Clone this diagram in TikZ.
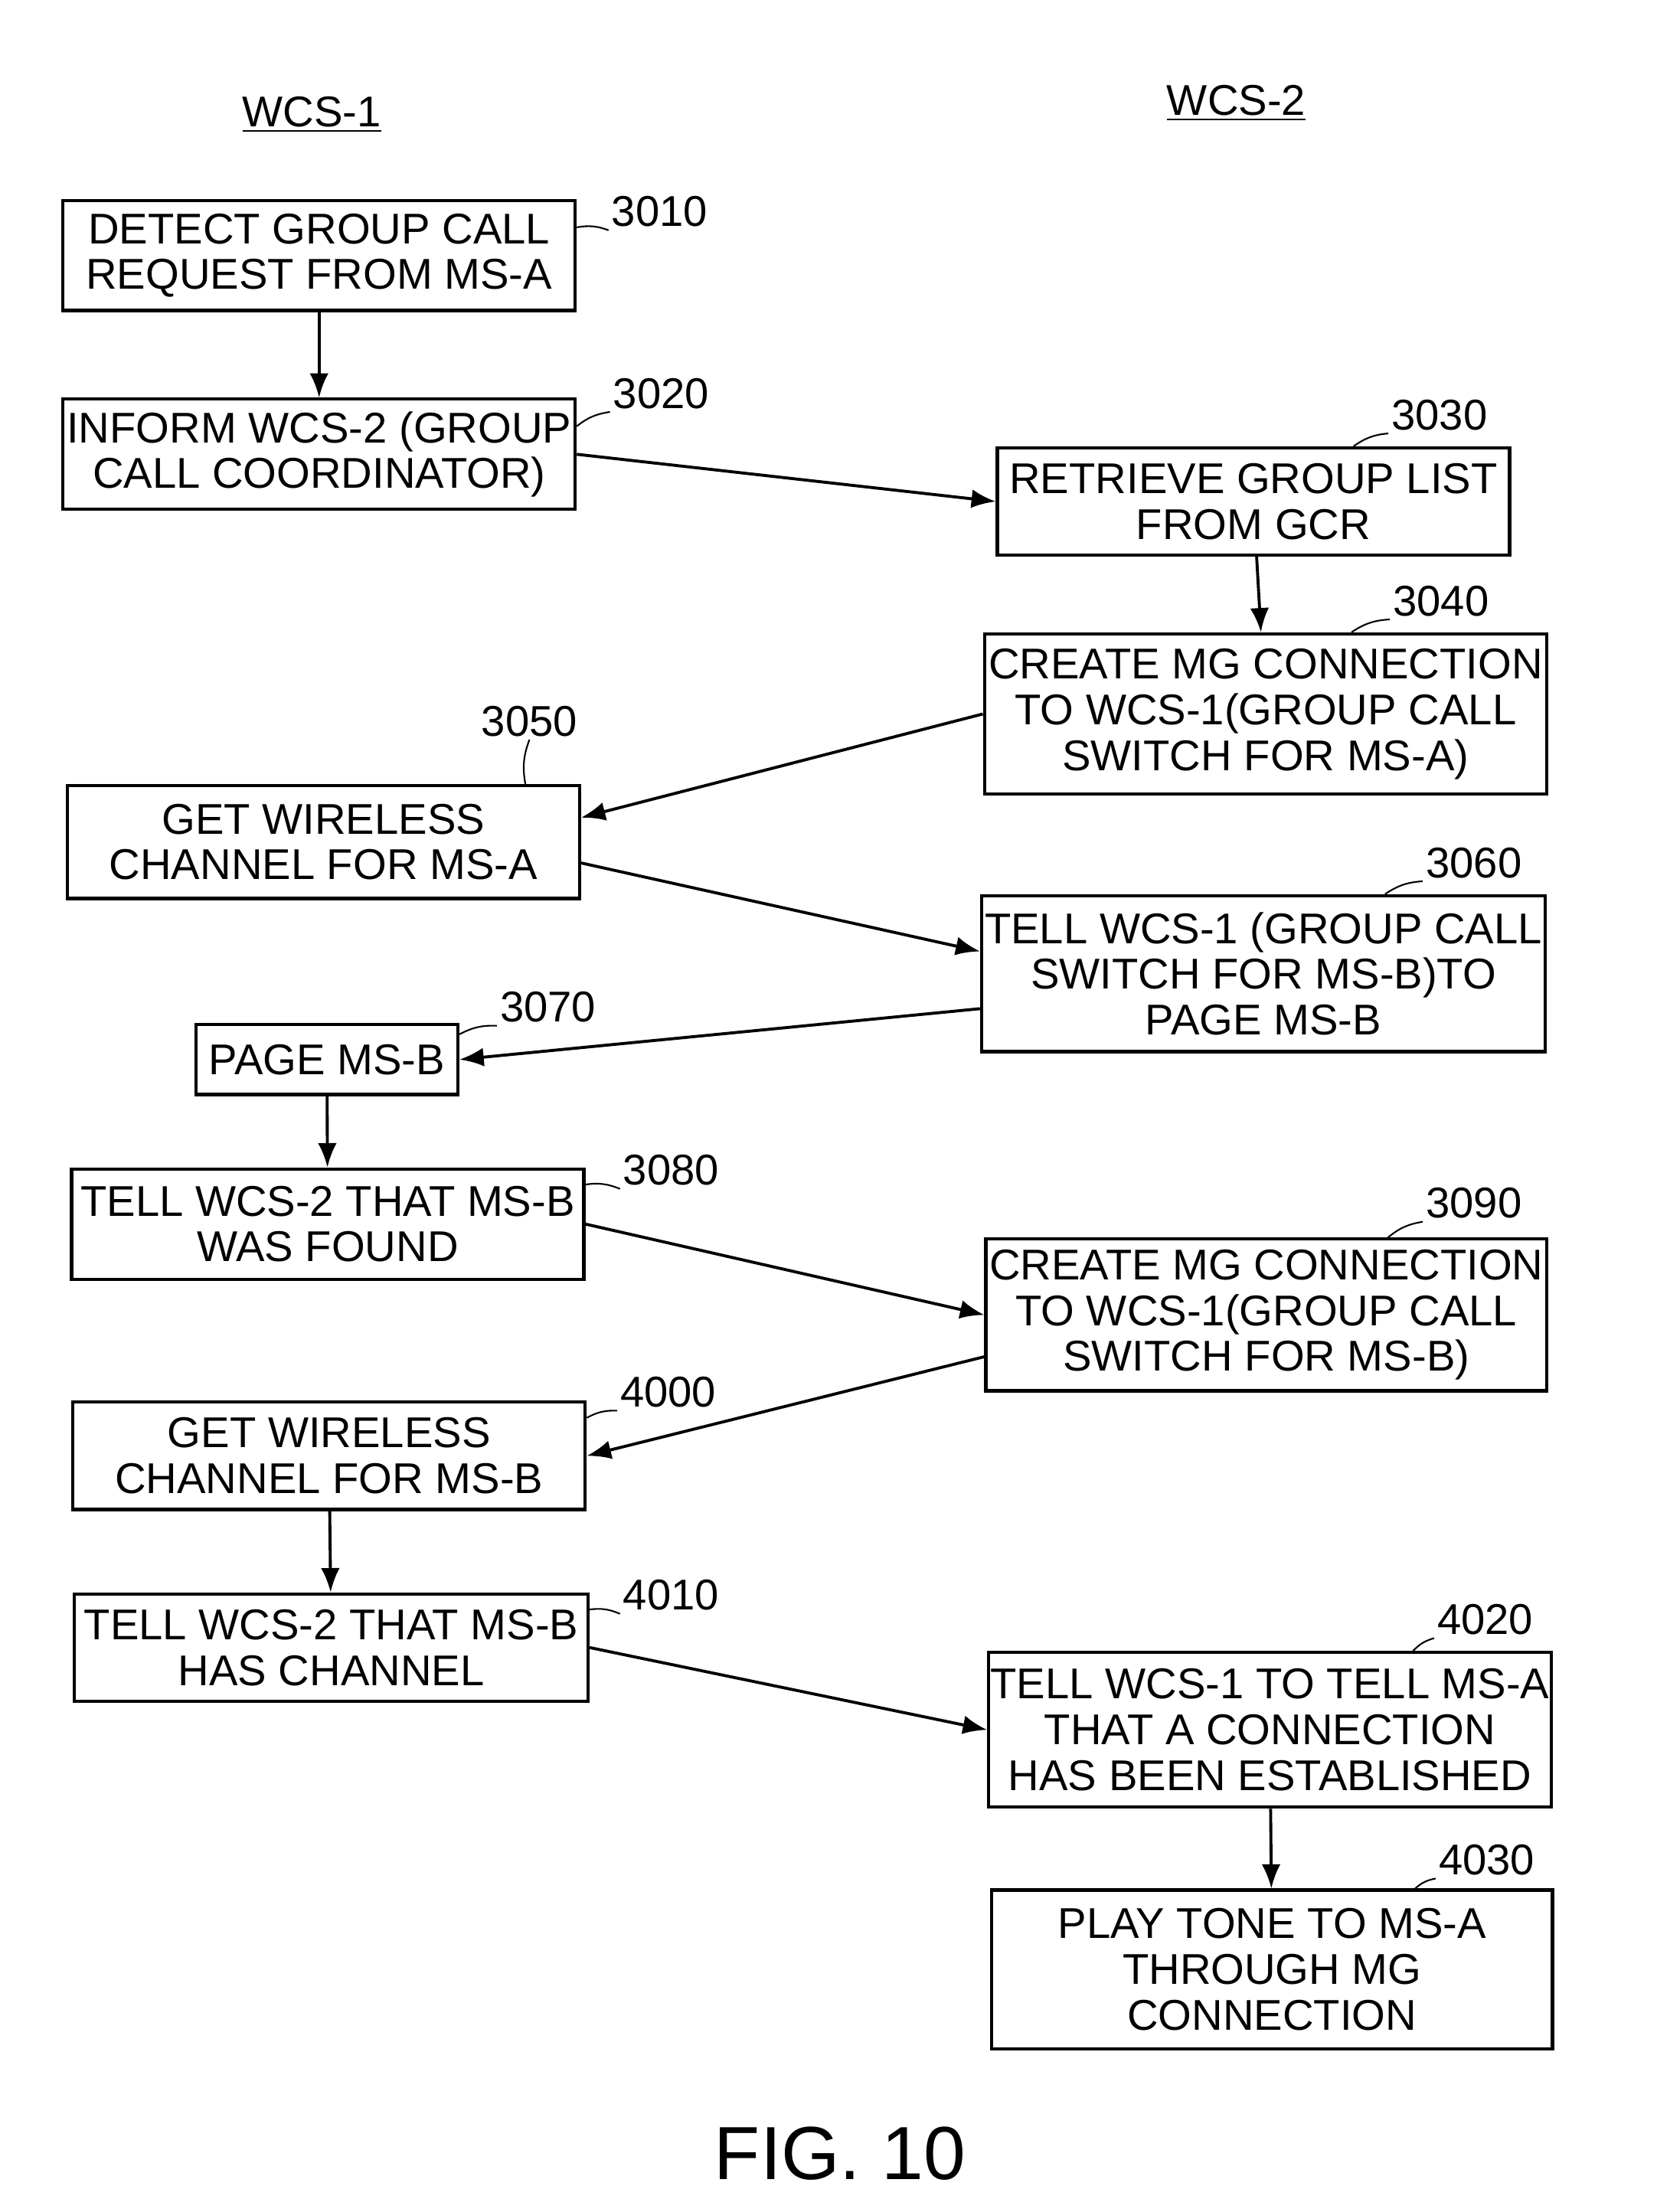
\documentclass[tikz,border=0pt]{standalone}
\usepackage{fontspec}
\setmainfont{Liberation Sans}
\usetikzlibrary{calc,arrows.meta}
\begin{document}
\begin{tikzpicture}[x=0.01869cm,y=-0.01869cm,
  box/.style={draw,line width=1.2pt,align=center,inner sep=0pt,font=\fontsize{16}{17}\selectfont},
  num/.style={font=\fontsize{16}{17}\selectfont,inner sep=1pt},
  arr/.style={-{Latex[length=9pt,width=7pt]},line width=1.1pt},
  lead/.style={line width=0.6pt}]
\useasboundingbox (0,0) rectangle (1158,1546);
\newcommand{\bx}[6]{\node[box,minimum width=(#4-#2)*0.01869cm,minimum height=(#5-#3)*0.01869cm] (#1) at ({(#2+#4)/2},{(#3+#5)/2}) {#6};}
\node[font=\fontsize{16}{17}\selectfont] (h1) at (218,80) {\underline{WCS-1}};
\node[font=\fontsize{16}{17}\selectfont] (h2) at (864,72) {\underline{WCS-2}};
\bx{a}{44}{140}{402}{217}{DETECT GROUP CALL\\REQUEST FROM MS-A}
\bx{b}{44}{279}{402}{356}{INFORM WCS-2 (GROUP\\CALL COORDINATOR)}
\bx{c}{697}{313}{1055}{388}{RETRIEVE GROUP LIST\\FROM GCR}
\bx{d}{688}{443}{1081}{555}{CREATE MG CONNECTION\\TO WCS-1(GROUP CALL\\SWITCH FOR MS-A)}
\bx{e}{47}{549}{405}{628}{GET WIRELESS\\CHANNEL FOR MS-A}
\bx{f}{686}{626}{1080}{735}{TELL WCS-1 (GROUP CALL\\SWITCH FOR MS-B)TO\\PAGE MS-B}
\bx{g}{137}{716}{320}{765}{PAGE MS-B}
\bx{h}{50}{817}{408}{894}{TELL WCS-2 THAT MS-B\\WAS FOUND}
\bx{i}{689}{866}{1081}{972}{CREATE MG CONNECTION\\TO WCS-1(GROUP CALL\\SWITCH FOR MS-B)}
\bx{j}{51}{980}{409}{1055}{GET WIRELESS\\CHANNEL FOR MS-B}
\bx{k}{52}{1114}{411}{1189}{TELL WCS-2 THAT MS-B\\HAS CHANNEL}
\bx{l}{691}{1155}{1084}{1263}{TELL WCS-1 TO TELL MS-A\\THAT A CONNECTION\\HAS BEEN ESTABLISHED}
\bx{m}{693}{1321}{1085}{1432}{PLAY TONE TO MS-A\\THROUGH MG\\CONNECTION}
\node[num] (na) at (461,148) {3010};
\node[num] (nb) at (462,275) {3020};
\node[num] (nc) at (1006,290) {3030};
\node[num] (nd) at (1007,420) {3040};
\node[num] (ne) at (370,504) {3050};
\node[num] (nf) at (1030,603) {3060};
\node[num] (ng) at (383,704) {3070};
\node[num] (nh) at (469,818) {3080};
\node[num] (ni) at (1030,841) {3090};
\node[num] (nj) at (467,973) {4000};
\node[num] (nk) at (469,1115) {4010};
\node[num] (nl) at (1038,1132) {4020};
\node[num] (nm) at (1039,1300) {4030};
\draw[lead] ($(a.north east)+(0,20)$) to[bend left=15] (na.south west);
\draw[lead] ($(b.north east)+(0,20)$) to[bend left=15] (nb.south west);
\draw[lead] ($(c.north)+(70,0)$) to[bend left=15] (nc.south west);
\draw[lead] ($(d.north)+(60,0)$) to[bend left=15] (nd.south west);
\draw[lead] ($(e.north east)+(-39,0)$) to[bend left=15] (ne.south);
\draw[lead] ($(f.north)+(85,0)$) to[bend left=15] (nf.south west);
\draw[lead] ($(g.north east)+(0,8)$) to[bend left=15] (ng.south west);
\draw[lead] ($(h.north east)+(0,12)$) to[bend left=15] (nh.south west);
\draw[lead] ($(i.north)+(85,0)$) to[bend left=15] (ni.south west);
\draw[lead] ($(j.north east)+(0,12)$) to[bend left=15] (nj.south west);
\draw[lead] ($(k.north east)+(0,12)$) to[bend left=15] (nk.south west);
\draw[lead] ($(l.north)+(100,0)$) to[bend left=15] (nl.south west);
\draw[lead] ($(m.north)+(100,0)$) to[bend left=15] (nm.south west);
\draw[arr] (a) -- (b);
\draw[arr] (b.east) -- (c.west);
\draw[arr] (c) -- (d);
\draw[arr] (d.west) -- ($(e.north east)!0.29!(e.south east)$);
\draw[arr] ($(e.north east)!0.68!(e.south east)$) -- ($(f.north west)!0.36!(f.south west)$);
\draw[arr] ($(f.north west)!0.72!(f.south west)$) -- (g.east);
\draw[arr] (g) -- (h);
\draw[arr] (h.east) -- (i.west);
\draw[arr] ($(i.north west)!0.77!(i.south west)$) -- (j.east);
\draw[arr] (j) -- (k);
\draw[arr] (k.east) -- (l.west);
\draw[arr] (l) -- (m);
\node[font=\fontsize{28}{30}\selectfont] (fig) at (587,1505) {FIG. 10};
\end{tikzpicture}
\end{document}
